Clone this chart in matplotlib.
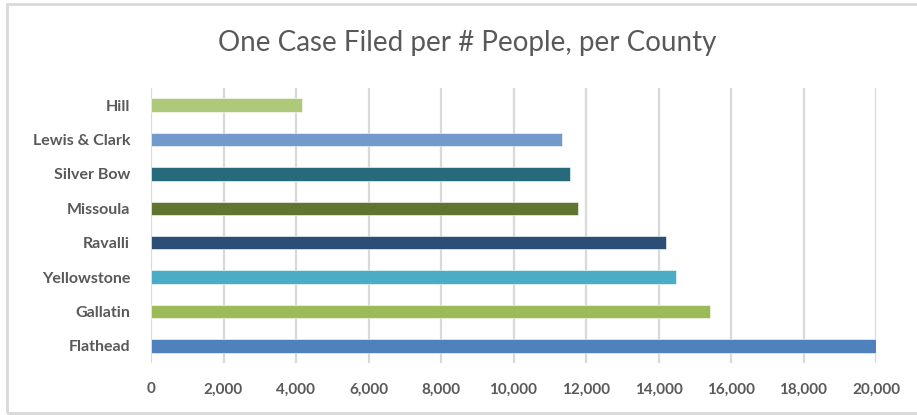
import matplotlib.pyplot as plt
from matplotlib.patches import Rectangle
import matplotlib.ticker as ticker

# counties, bottom to top
counties = ["Flathead", "Gallatin", "Yellowstone", "Ravalli",
            "Missoula", "Silver Bow", "Lewis & Clark", "Hill"]
people_per_case = [20000, 15410, 14480, 14200, 11770, 11560, 11330, 4170]
bar_colors = ["#4F81BD", "#9BBB59", "#4BACC6", "#2C4D75",
              "#5F7530", "#276A7C", "#729ACA", "#AFC97A"]
xticks = list(range(0, 20001, 2000))

plt.rcParams['font.family'] = ['Lato', 'DejaVu Sans']
text_col = "#595959"

fig = plt.figure(figsize=(9.17, 4.15), dpi=100)
ax = fig.add_axes([151/917, 52/415, 725/917, 275/415])

# light frame around the chart area
fig.patches.append(Rectangle((7/917, 2/415), 1.0, 409/415, transform=fig.transFigure,
                             fill=False, edgecolor="#D9D9D9", linewidth=2.0))

ax.barh(range(len(counties)), people_per_case, height=0.39, color=bar_colors,
        edgecolor="white", linewidth=0.4, zorder=3)

ax.set_xlim(0, 20000)
ax.set_ylim(-0.5, len(counties) - 0.5)
ax.set_xticks(xticks)
ax.xaxis.set_major_formatter(ticker.FuncFormatter(lambda v, p: f"{int(v):,}"))
ax.set_yticks(range(len(counties)))
ax.set_yticklabels(counties)

ax.grid(axis='x', color="#D9D9D9", linewidth=1.6, zorder=0)
for s in ax.spines.values():
    s.set_visible(False)
ax.tick_params(axis='both', length=0, colors=text_col, labelsize=11)
ax.tick_params(axis='y', labelsize=11.5)
ax.tick_params(axis='x', pad=14)
ax.tick_params(axis='y', pad=15)
for lbl in ax.get_xticklabels() + ax.get_yticklabels():
    lbl.set_fontweight('bold')

fig.text(467/917, 1 - 43/415, "One Case Filed per # People, per County",
         ha='center', va='center', fontsize=20, color=text_col)

fig.savefig("out.png", dpi=100)
